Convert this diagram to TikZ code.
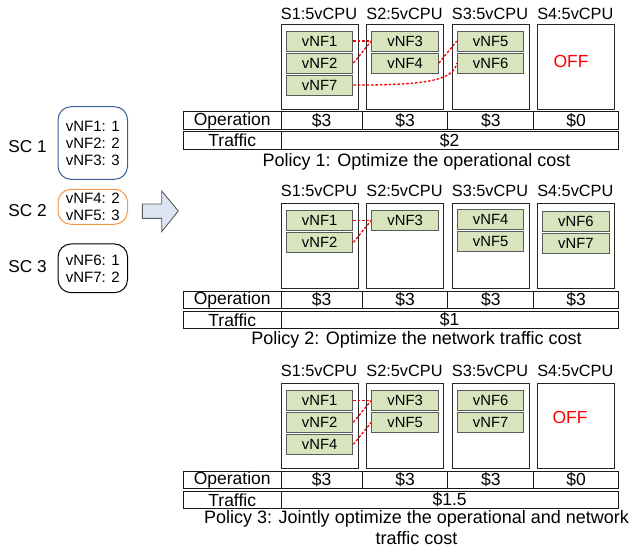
\documentclass[tikz,border=0pt]{standalone}
\usepackage{fontspec}
\setmainfont{Liberation Sans}
\usetikzlibrary{calc}
\definecolor{vnfgreen}{HTML}{D7E4BD}
\definecolor{vnfborder}{HTML}{5A5A5A}
\definecolor{scblue}{HTML}{3B5E98}
\definecolor{scorange}{HTML}{F79646}
\definecolor{arrowfill}{HTML}{DCE6F2}
\definecolor{linkred}{HTML}{FF0000}
\tikzset{
  server/.style={draw=black!85, line width=0.9pt, minimum width=77pt, minimum height=85pt, anchor=north west, inner sep=0pt},
  srvlabel/.style={font=\fontsize{16.3}{18}\selectfont, inner sep=0pt},
  vnf/.style={draw=vnfborder, fill=vnfgreen, line width=1.1pt, minimum width=66.5pt, minimum height=20pt, anchor=north west, inner sep=0pt, font=\fontsize{14.8}{16}\selectfont},
  cell/.style={draw=black!90, line width=1pt, anchor=north west, minimum height=17.7pt, inner sep=0pt, font=\fontsize{17.5}{19}\selectfont},
  policy/.style={font=\fontsize{18}{19}\selectfont, inner sep=0pt, align=center},
  offtext/.style={text=linkred, font=\fontsize{17.5}{19}\selectfont, inner sep=0pt},
  link/.style={draw=linkred, line width=1.3pt, dash pattern=on 2.6pt off 1.8pt},
  scbox/.style={rounded corners=13pt, line width=1pt, minimum width=69.5pt, inner sep=0pt, align=center, font=\fontsize{15}{17}\selectfont},
  sclabel/.style={font=\fontsize{17.2}{19}\selectfont, inner sep=0pt},
}
\newcommand{\srvrow}[3]{%
  \foreach \i/\xx in {1/280.5,2/366,3/451.5,4/536.8}{%
    \node[server] (#1-s\i) at (\xx,#2) {};
    \node[srvlabel] (#1-l\i) at (\xx+38.5,#3) {S\i:5vCPU};
  }%
}
\newcommand{\costtable}[7]{%
  \node[cell, minimum width=98pt] (#1-oph) at (182.7,#2) {Operation};
  \node[cell, minimum width=81pt] (#1-o1) at (280.7,#2) {#3};
  \node[cell, minimum width=85.6pt] (#1-o2) at (361.7,#2) {#4};
  \node[cell, minimum width=86pt] (#1-o3) at (447.3,#2) {#5};
  \node[cell, minimum width=84.4pt] (#1-o4) at (533.3,#2) {#6};
  \node[cell, minimum width=98pt] (#1-trh) at (182.7,#2+20) {Traffic};
  \node[cell, minimum width=337pt] (#1-tr) at (280.7,#2+20) {#7};
}
\begin{document}
\begin{tikzpicture}[x=1pt,y=-1pt]
\useasboundingbox (0,0) rectangle (630,550);

% ---------- left: service chains ----------
\node[sclabel] (sc1l) at (27.5,146.7) {SC 1};
\node[sclabel] (sc2l) at (27.5,211) {SC 2};
\node[sclabel] (sc3l) at (27.5,266.7) {SC 3};
\node[scbox, draw=scblue, minimum height=72.6pt] (sc1) at (92.8,143) {vNF1: 1\\vNF2: 2\\vNF3: 3};
\node[scbox, draw=scorange, minimum height=35pt] (sc2) at (92.8,206.8) {vNF4: 2\\vNF5: 3};
\node[scbox, draw=black, minimum height=48.7pt] (sc3) at (92.8,268.3) {vNF6: 1\\vNF7: 2};

% big arrow
\draw[fill=arrowfill, draw=black!65, line width=0.9pt, line join=miter]
  (142.3,204) -- (161.7,204) -- (161.7,191) -- (178.3,211) -- (161.7,231.7) -- (161.7,218.3) -- (142.3,218.3) -- cycle;

% ---------- Policy 1 ----------
\srvrow{p1}{24}{14}
\node[vnf] (p1-v1) at (285.8,30.5) {vNF1};
\node[vnf] (p1-v2) at (285.8,52.5) {vNF2};
\node[vnf] (p1-v7) at (285.8,74.5) {vNF7};
\node[vnf] (p1-v3) at (371.3,30.5) {vNF3};
\node[vnf] (p1-v4) at (371.3,52.5) {vNF4};
\node[vnf] (p1-v5) at (456.8,30.5) {vNF5};
\node[vnf] (p1-v6) at (456.8,52.5) {vNF6};
\node[offtext] (p1-off) at (571,61) {OFF};
\costtable{p1}{111.2}{\$3}{\$3}{\$3}{\$0}{\$2}
\node[policy] (p1-pol) at (416.5,161.7) {Policy 1: Optimize the operational cost};
\draw[link] (p1-v1.east) -- (p1-v3.west);
\draw[link] (p1-v2.east) -- (p1-v3.west);
\draw[link] (p1-v4.east) -- (p1-v5.west);
\draw[link] (p1-v7.east) .. controls +(70,0) and +(-3,18) .. (p1-v6.west);

% ---------- Policy 2 ----------
\srvrow{p2}{203.3}{190.7}
\node[vnf] (p2-v1) at (285.8,209.8) {vNF1};
\node[vnf] (p2-v2) at (285.8,231.8) {vNF2};
\node[vnf] (p2-v3) at (371.3,209.8) {vNF3};
\node[vnf] (p2-v4) at (456.8,209.3) {vNF4};
\node[vnf] (p2-v5) at (456.8,231.3) {vNF5};
\node[vnf] (p2-v6) at (542.1,210.7) {vNF6};
\node[vnf] (p2-v7) at (542.1,232.7) {vNF7};
\costtable{p2}{290.5}{\$3}{\$3}{\$3}{\$3}{\$1}
\node[policy] (p2-pol) at (416.5,340) {Policy 2: Optimize the network traffic cost};
\draw[link] (p2-v1.east) -- (p2-v3.west);
\draw[link] (p2-v2.east) -- (p2-v3.west);

% ---------- Policy 3 ----------
\srvrow{p3}{383.3}{370.5}
\node[vnf] (p3-v1) at (285.8,389.8) {vNF1};
\node[vnf] (p3-v2) at (285.8,411.8) {vNF2};
\node[vnf] (p3-v4) at (285.8,433.8) {vNF4};
\node[vnf] (p3-v3) at (371.3,389.8) {vNF3};
\node[vnf] (p3-v5) at (371.3,411.8) {vNF5};
\node[vnf] (p3-v6) at (456.8,389.8) {vNF6};
\node[vnf] (p3-v7) at (456.8,411.8) {vNF7};
\node[offtext] (p3-off) at (570,417.7) {OFF};
\costtable{p3}{470.5}{\$3}{\$3}{\$3}{\$0}{\$1.5}
\node[policy] (p3-pol1) at (416.5,519.3) {Policy 3: Jointly optimize the operational and network};
\node[policy] (p3-pol2) at (416.5,538.3) {traffic cost};
\draw[link] (p3-v1.east) -- (p3-v3.west);
\draw[link] (p3-v2.east) -- (p3-v3.west);
\draw[link] (p3-v4.east) -- (p3-v5.west);
\end{tikzpicture}
\end{document}
